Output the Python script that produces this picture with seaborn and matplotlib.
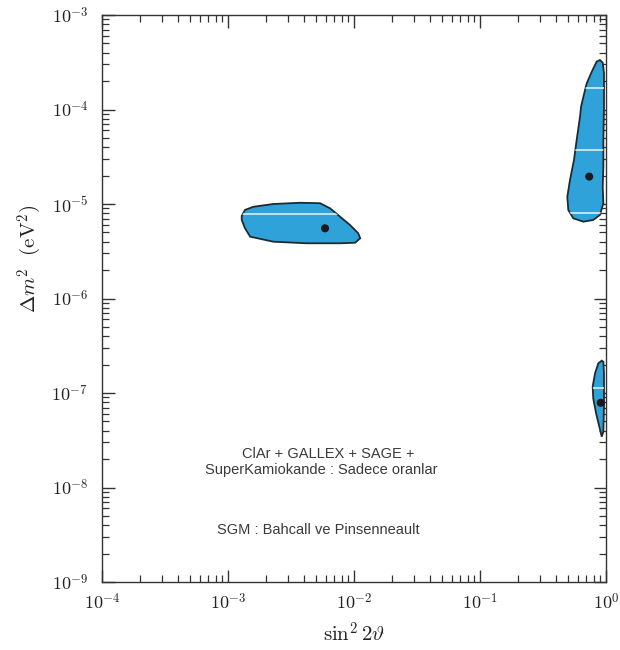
import numpy as np
import pandas as pd
import matplotlib
matplotlib.use("Agg")
import matplotlib.pyplot as plt
import seaborn as sns
from matplotlib.ticker import LogLocator, FuncFormatter, NullFormatter

# Allowed regions (90% C.L.) in the (sin^2 2theta, Delta m^2) plane
sma_sin2 = [1.285e-3, 1.365e-3, 1.59e-3, 2.29e-3, 3.72e-3, 5.37e-3, 6.46e-3, 7.74e-3,
            9.29e-3, 1.08e-2, 1.12e-2, 1.02e-2, 7.74e-3, 4.22e-3, 2.29e-3, 1.50e-3,
            1.365e-3, 1.285e-3]
sma_dm2 = [7.46e-6, 8.65e-6, 9.35e-6, 1.00e-5, 1.03e-5, 1.02e-5, 9.0e-6, 7.35e-6,
           6.0e-6, 4.9e-6, 4.34e-6, 3.89e-6, 3.84e-6, 3.84e-6, 3.99e-6, 4.51e-6,
           5.53e-6, 6.78e-6]

lma_sin2 = [0.895, 0.843, 0.771, 0.703, 0.661, 0.634, 0.622, 0.585, 0.557, 0.518,
            0.493, 0.502, 0.550, 0.661, 0.792, 0.895, 0.953, 0.942, 0.953, 0.953,
            0.964, 0.964, 0.942]
lma_dm2 = [3.34e-4, 3.21e-4, 2.51e-4, 1.89e-4, 1.36e-4, 1.07e-4, 8.39e-5, 4.75e-5,
           2.92e-5, 1.80e-5, 1.19e-5, 8.65e-6, 7.06e-6, 6.50e-6, 6.78e-6, 7.66e-6,
           1.02e-5, 1.52e-5, 2.48e-5, 4.75e-5, 1.07e-4, 2.42e-4, 3.13e-4]

low_sin2 = [0.925, 0.869, 0.818, 0.784, 0.792, 0.834, 0.885, 0.925, 0.953, 0.964,
            0.964, 0.953]
low_dm2 = [2.20e-7, 2.06e-7, 1.61e-7, 1.17e-7, 8.79e-8, 6.10e-8, 4.40e-8, 3.45e-8,
           3.90e-8, 7.16e-8, 1.61e-7, 2.14e-7]

# Best-fit points
best_sin2 = [5.89e-3, 0.736, 0.908]
best_dm2 = [5.53e-6, 1.95e-5, 7.88e-8]

# Light level lines running across the filled regions
sma_levels = [7.83e-6]
lma_levels = [1.70e-4, 3.73e-5, 7.98e-6]
low_levels = [1.14e-7]

x_ticks = [1e-4, 1e-3, 1e-2, 1e-1, 1e0]
y_ticks = [1e-9, 1e-8, 1e-7, 1e-6, 1e-5, 1e-4, 1e-3]

sns.set_theme(style="ticks")
plt.rcParams["mathtext.fontset"] = "cm"
plt.rcParams["font.family"] = ["DejaVu Serif"]

fig = plt.figure(figsize=(6.2, 6.5), dpi=100)
ax = fig.add_axes([102 / 620, 1 - 582 / 650, 504 / 620, 567 / 650])
ax.set_xscale("log")
ax.set_yscale("log")
ax.set_xlim(1e-4, 1e0)
ax.set_ylim(1e-9, 1e-3)

fill_color = "#2fa3d9"
edge_color = "#1f2a2e"
regions = [
    (sma_sin2, sma_dm2, sma_levels),
    (lma_sin2, lma_dm2, lma_levels),
    (low_sin2, low_dm2, low_levels),
]
for xs, ys, levels in regions:
    patch = ax.fill(xs, ys, facecolor=fill_color, edgecolor=edge_color,
                    linewidth=1.3, zorder=2)[0]
    for lv in levels:
        ln, = ax.plot([min(xs), max(xs)], [lv, lv], color="#e8f4fa",
                      linewidth=1.1, zorder=3)
        ln.set_clip_path(patch)

best = pd.DataFrame({"sin2": best_sin2, "dm2": best_dm2})
sns.scatterplot(data=best, x="sin2", y="dm2", ax=ax, color="#1a1a1a",
                s=34, edgecolor="none", zorder=4, legend=False)

# Ticks: inward on all four sides, typewriter-style labels
ax.xaxis.set_minor_locator(LogLocator(base=10, subs=np.arange(2, 10), numticks=20))
ax.yaxis.set_minor_locator(LogLocator(base=10, subs=np.arange(2, 10), numticks=20))
ax.set_xticks(x_ticks)
ax.set_yticks(y_ticks)


def tt_power(v, pos):
    e = int(round(np.log10(v)))
    return r"$\mathtt{10^{%d}}$" % e


ax.xaxis.set_major_formatter(FuncFormatter(tt_power))
ax.yaxis.set_major_formatter(FuncFormatter(tt_power))
ax.xaxis.set_minor_formatter(NullFormatter())
ax.yaxis.set_minor_formatter(NullFormatter())
ax.tick_params(which="both", direction="in", top=True, right=True,
               color="#333333", labelcolor="#222222", labelsize=13)
ax.tick_params(which="major", length=9, width=1.0, pad=8)
ax.tick_params(which="minor", length=5, width=0.9)
ax.tick_params(axis="y", which="major", pad=10)
for sp in ax.spines.values():
    sp.set_color("#333333")
    sp.set_linewidth(1.0)

ax.set_xlabel(r"$\sin^2 2\vartheta$", fontsize=15, color="#222222", labelpad=6)
ax.set_ylabel(r"$\Delta m^2\ \ (\mathrm{eV}^2)$", fontsize=15, color="#222222")
ax.yaxis.set_label_coords(-0.115, 0.57)

ax.grid(False)
ax.set_facecolor("white")

note_kw = dict(transform=ax.transAxes, ha="center", va="center",
               fontsize=10.5, color="#3a3a3a", family=["Liberation Sans"])
ax.text(0.448, 0.226, "ClAr + GALLEX + SAGE +", **note_kw)
ax.text(0.4345, 0.198, "SuperKamiokande : Sadece oranlar", **note_kw)
ax.text(0.4286, 0.092, "SGM : Bahcall ve Pinsenneault", **note_kw)

fig.savefig("out.png", dpi=100, facecolor="white")
